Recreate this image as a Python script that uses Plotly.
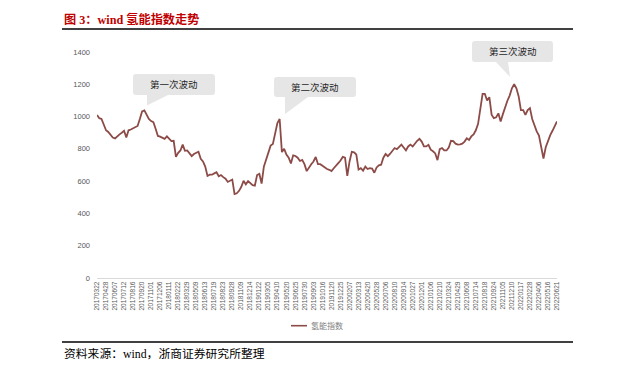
import plotly.graph_objects as go

# ---------------- data ----------------
tick_labels = [
    "20170322", "20170428", "20170607", "20170712", "20170816", "20170920",
    "20171101", "20171206", "20180111", "20180222", "20180329", "20180509",
    "20180613", "20180719", "20180823", "20180928", "20181109", "20181214",
    "20190122", "20190305", "20190410", "20190520", "20190625", "20190730",
    "20190903", "20191016", "20191120", "20191225", "20200207", "20200313",
    "20200420", "20200528", "20200706", "20200810", "20200914", "20201027",
    "20201201", "20210106", "20210210", "20210324", "20210429", "20210608",
    "20210714", "20210818", "20210924", "20211105", "20211210", "20220117",
    "20220228", "20220406", "20220516", "20220621",
]
SUB = 4  # readings per tick interval

hydrogen_index = [
    1010, 990, 985, 950,   915, 905, 890, 870,   865, 880, 890, 900,
    912, 870, 915, 920,    928, 938, 942, 985,   1032, 1038, 1012, 985,
    972, 965, 925, 880,    876, 870, 862, 877,   860, 848, 850, 750,
    775, 790, 826, 788,    790, 775, 755, 768,   775, 782, 738, 722,
    690, 632, 640, 640,    648, 655, 630, 638,   625, 615, 595, 605,
    610, 520, 525, 540,    565, 602, 580, 600,   590, 575, 572, 638,
    645, 585, 690, 735,    770, 820, 830, 900,   960, 985, 780, 800,
    765, 745, 710, 760,    756, 745, 725, 732,   705, 662, 685, 705,
    722, 750, 705, 705,    695, 682, 675, 670,   662, 680, 700, 712,
    728, 750, 745, 632,    722, 782, 778, 765,   672, 680, 665, 690,
    675, 680, 678, 652,    685, 698, 702, 745,   768, 755, 770, 785,
    805, 798, 812, 826,    808, 790, 815, 826,   815, 835, 850, 862,
    845, 815, 815, 825,    795, 785, 772, 730,   798, 805, 790, 790,
    808, 850, 848, 832,    826, 828, 832, 845,   866, 855, 877, 890,
    915, 955, 1035, 1140,  1140, 1100, 1120, 1012, 990, 995, 1020, 970,
    1015, 1063, 1098, 1130, 1175, 1200, 1175, 1125, 1040, 1040, 1010, 1040,
    1052, 985, 940, 908,   882, 815, 740, 810,   855, 885, 912, 938,
    970,
]
series_name = "氢能指数"
callout_texts = ["第一次波动", "第二次波动", "第三次波动"]
title_text = "图 3：wind 氢能指数走势"
source_text = "资料来源：wind，浙商证券研究所整理"

# ---------------- layout helpers ----------------
W, H = 621, 375
L, R, T, B = 97, 64, 52, 97
PW, PH = W - L - R, H - T - B
LINE_COLOR = "#8C4B47"


def fx(px):
    return (px - L) / PW


def fy(py):
    return (H - B - py) / PH


def bubble(x0, y0, x1, y1, tb0, tb1, tipx, tipy, r=3):
    pts = [
        ("M", (x0 + r, y0)), ("L", (x1 - r, y0)),
        ("Q", (x1, y0), (x1, y0 + r)), ("L", (x1, y1 - r)),
        ("Q", (x1, y1), (x1 - r, y1)), ("L", (tb1, y1)),
        ("L", (tipx, tipy)), ("L", (tb0, y1)), ("L", (x0 + r, y1)),
        ("Q", (x0, y1), (x0, y1 - r)), ("L", (x0, y0 + r)),
        ("Q", (x0, y0), (x0 + r, y0)),
    ]
    out = []
    for p in pts:
        cmd = p[0]
        coords = " ".join(f"{fx(a):.5f},{fy(b):.5f}" for a, b in p[1:])
        out.append(f"{cmd} {coords}")
    return " ".join(out) + " Z"


x_vals = [k / SUB for k in range(len(hydrogen_index))]

fig = go.Figure()
fig.add_trace(go.Scatter(
    x=x_vals, y=hydrogen_index, mode="lines", name=series_name,
    line=dict(color=LINE_COLOR, width=1.8), showlegend=False,
    hoverinfo="skip",
))

bubbles = [
    ((133, 74, 215, 95, 147, 168, 147, 105.5), callout_texts[0]),
    ((274, 77, 356, 97, 285, 308, 285, 114), callout_texts[1]),
    ((472, 41, 553, 62, 496, 508, 510, 77), callout_texts[2]),
]

shapes = []
annotations = []
for geo, txt in bubbles:
    shapes.append(dict(type="path", xref="paper", yref="paper",
                       path=bubble(*geo), fillcolor="#e6e6e6",
                       line=dict(width=0), layer="above"))
    cx = (geo[0] + geo[2]) / 2
    cy = (geo[1] + geo[3]) / 2
    annotations.append(dict(xref="paper", yref="paper", x=fx(cx), y=fy(cy),
                            xanchor="center", yanchor="middle",
                            text=txt, showarrow=False,
                            font=dict(size=9.5, color="#262626",
                                      family="Noto Sans CJK SC")))

# title / source rules
shapes.append(dict(type="line", xref="paper", yref="paper",
                   x0=fx(62), x1=fx(573), y0=fy(29), y1=fy(29),
                   line=dict(color="black", width=1.3)))
shapes.append(dict(type="line", xref="paper", yref="paper",
                   x0=fx(62), x1=fx(573), y0=fy(342), y1=fy(342),
                   line=dict(color="black", width=1.3)))
# legend sample
shapes.append(dict(type="line", xref="paper", yref="paper",
                   x0=fx(291), x1=fx(307), y0=fy(325.7), y1=fy(325.7),
                   line=dict(color=LINE_COLOR, width=1.6)))
annotations.append(dict(xref="paper", yref="paper", x=fx(309), y=fy(325.7),
                        xanchor="left", yanchor="middle",
                        text=series_name, showarrow=False,
                        font=dict(size=8, color="#7f7f7f",
                                  family="Noto Sans CJK SC")))
annotations.append(dict(xref="paper", yref="paper", x=fx(62), y=fy(19),
                        xanchor="left", yanchor="middle",
                        text=f"<b>{title_text}</b>",
                        showarrow=False,
                        font=dict(size=12.2, color="#C00000",
                                  family="Liberation Serif, Noto Sans CJK SC")))
annotations.append(dict(xref="paper", yref="paper", x=fx(62), y=fy(354),
                        xanchor="left", yanchor="middle",
                        text=source_text, showarrow=False,
                        font=dict(size=11.8, color="black",
                                  family="Liberation Serif, Noto Sans CJK SC")))

fig.update_layout(
    width=W, height=H,
    margin=dict(l=L, r=R, t=T, b=B, pad=0),
    plot_bgcolor="white", paper_bgcolor="white",
    shapes=shapes, annotations=annotations,
    font=dict(family="Liberation Sans, Noto Sans CJK SC", color="#595959"),
    xaxis=dict(range=[0, len(tick_labels) - 1], tickmode="array",
               tickvals=list(range(len(tick_labels))), ticktext=tick_labels,
               tickangle=-90, tickfont=dict(size=6.5, color="#595959"),
               showgrid=False, zeroline=False, showline=True,
               linecolor="#d9d9d9", linewidth=1, ticks=""),
    yaxis=dict(range=[0, 1400], tickmode="linear", tick0=0, dtick=200,
               tickfont=dict(size=7.5, color="#595959"), showgrid=False,
               zeroline=False, showline=False, ticks="",
               ticklabelstandoff=6),
)

fig.write_html("out.html",
               config={"displayModeBar": False},
               post_script="document.body.style.margin='0';"
                           "document.body.style.padding='0';")
